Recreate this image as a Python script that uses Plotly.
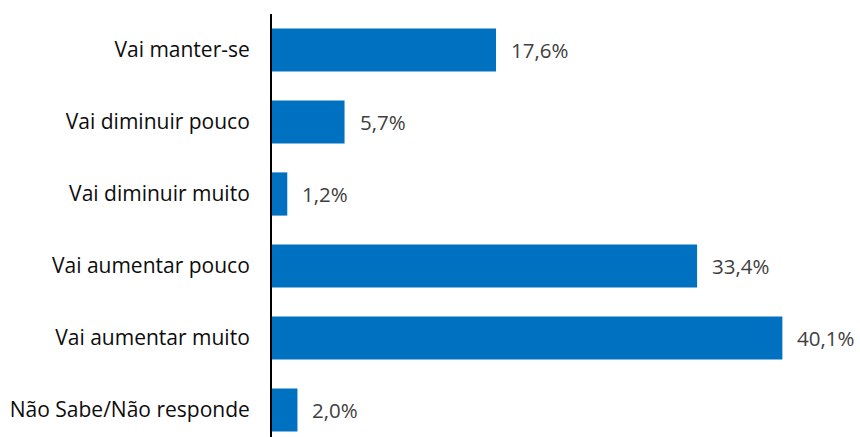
import plotly.graph_objects as go

categories = [
    "Vai manter-se",
    "Vai diminuir pouco",
    "Vai diminuir muito",
    "Vai aumentar pouco",
    "Vai aumentar muito",
    "Não Sabe/Não responde",
]
values = [17.6, 5.7, 1.2, 33.4, 40.1, 2.0]
value_labels = [f"{v:.1f}".replace(".", ",") + "%" for v in values]

BAR_COLOR = "#0070C0"
FONT = "Open Sans"

fig = go.Figure(
    go.Bar(
        x=values,
        y=categories,
        orientation="h",
        marker=dict(color=BAR_COLOR, line=dict(width=0)),
        hoverinfo="skip",
    )
)

for cat, v, lab in zip(categories, values, value_labels):
    fig.add_annotation(
        x=v, y=cat, text=lab, showarrow=False,
        xanchor="left", yanchor="middle", xshift=13,
        font=dict(family=FONT, size=20.5, color="#404040"),
    )

fig.update_layout(
    width=860, height=437,
    margin=dict(l=272, r=0, t=14, b=0),
    paper_bgcolor="white", plot_bgcolor="white",
    bargap=0.4,
    showlegend=False,
    font=dict(family=FONT, size=21, color="#0d0d0d"),
)
fig.update_xaxes(range=[0, 46.2], visible=False, showgrid=False, zeroline=False)
fig.update_yaxes(
    range=[5.375, -0.5],
    showgrid=False, zeroline=False,
    showline=True, linecolor="black", linewidth=2,
    ticks="", ticklabelstandoff=16,
    tickfont=dict(family=FONT, size=21, color="#0d0d0d"),
)

fig.write_html("out.html")
